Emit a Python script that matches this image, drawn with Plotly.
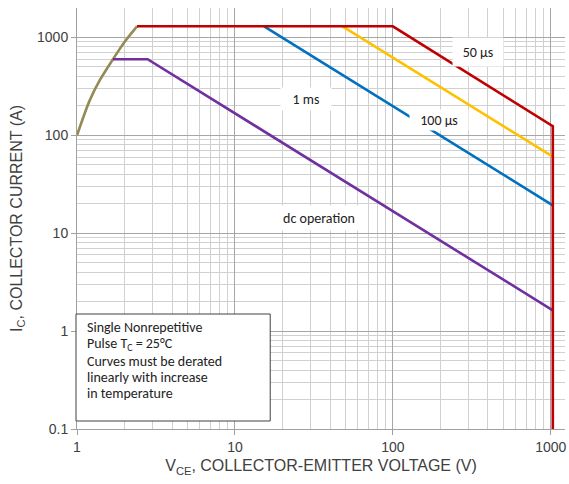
import plotly.graph_objects as go

# Safe operating area curves (V_CE in volts, I_C in amperes)
vce_rise = [1.0, 1.2, 1.4, 1.69, 2.0, 2.4]
ic_rise = [100, 225, 370, 600, 900, 1300]

vce_50us = [2.4, 100, 1030, 1030]
ic_50us = [1300, 1300, 124, 0.1]

vce_100us = [48, 1030]
ic_100us = [1300, 60.5]

vce_1ms = [15.3, 1030]
ic_1ms = [1300, 19.3]

vce_dc = [1.69, 2.8, 1030]
ic_dc = [600, 600, 1.63]

x_ticks = [1, 10, 100, 1000]
y_ticks = [0.1, 1, 10, 100, 1000]
y_tick_text = ["0.1", "1", "10", "100", "1000"]

x_minor = [m * 10 ** d for d in range(0, 4) for m in range(2, 10)]
y_minor = [m * 10 ** d for d in range(-1, 4) for m in range(2, 10)]

LW = 2.6
fig = go.Figure()
fig.add_trace(go.Scatter(x=vce_rise, y=ic_rise, mode="lines",
                         line=dict(color="#948A54", width=LW, shape="spline", smoothing=0.8)))
fig.add_trace(go.Scatter(x=vce_dc, y=ic_dc, mode="lines", line=dict(color="#7030A0", width=LW)))
fig.add_trace(go.Scatter(x=vce_1ms, y=ic_1ms, mode="lines", line=dict(color="#0070C0", width=LW)))
fig.add_trace(go.Scatter(x=vce_100us, y=ic_100us, mode="lines", line=dict(color="#FFC000", width=LW)))
fig.add_trace(go.Scatter(x=vce_50us, y=ic_50us, mode="lines", line=dict(color="#C00000", width=LW)))

label_font = dict(family="Carlito, Lato, sans-serif", size=14, color="#222222")

# plot area spans 77..567 px horizontally and 8..429 px vertically
def px_to_x(px):
    return (px - 77) / 490 * 3.09

def py_to_y(py):
    return 3.301 - (py - 8) / 421 * 4.301

curve_labels = [
    ("50 µs", 480, 52, 50, 28),
    ("100 µs", 440, 120, 58, 20),
    ("1 ms", 307, 99, 50, 22),
    ("dc operation", 320, 218, 94, 24),
]

annotations = []
for text, px, py, w, h in curve_labels:
    annotations.append(dict(
        x=px_to_x(px), y=py_to_y(py), xref="x", yref="y", text=text,
        showarrow=False, font=label_font, bgcolor="white",
        width=w, height=h, borderpad=0, xanchor="center", yanchor="middle",
    ))

note_lines = ["Single Nonrepetitive", "Pulse T<sub>C</sub> = 25°C",
              "Curves must be derated", "linearly with increase", "in temperature"]
note_y = [327, 344, 361, 377, 393]
for line, py in zip(note_lines, note_y):
    annotations.append(dict(
        x=(85 - 77) / 490, y=(429 - py) / 421, xref="paper", yref="paper",
        text=line, showarrow=False, align="left", xanchor="left", yanchor="middle",
        font=label_font,
    ))

shapes = [dict(
    type="rect", xref="paper", yref="paper",
    x0=(76 - 77) / 490, x1=(271 - 77) / 490,
    y0=(429 - 421) / 421, y1=(429 - 314) / 421,
    line=dict(color="#404040", width=1), fillcolor="white", layer="above",
)]

axis_font = dict(family="Liberation Sans, Arial, sans-serif", size=14, color="#404040")
title_font = dict(family="Liberation Sans, Arial, sans-serif", size=16, color="#404040")

fig.update_layout(
    width=569, height=484,
    margin=dict(l=77, r=2, t=8, b=55),
    paper_bgcolor="white", plot_bgcolor="white",
    showlegend=False,
    annotations=annotations,
    shapes=shapes,
    xaxis=dict(
        type="log", range=[0, 3.09],
        tickmode="array", tickvals=x_ticks, ticktext=[str(v) for v in x_ticks],
        ticks="outside", ticklen=5, tickcolor="#a0a0a0",
        showgrid=True, gridcolor="#a6a6a6", gridwidth=1,
        minor=dict(tickmode="array", tickvals=x_minor, showgrid=True,
                   gridcolor="#d0d0d0", ticks=""),
        showline=True, linecolor="#a0a0a0",
        tickfont=axis_font, zeroline=False,
        title=dict(text="V<sub>CE</sub>, COLLECTOR-EMITTER VOLTAGE (V)", font=title_font, standoff=6),
    ),
    yaxis=dict(
        type="log", range=[-1, 3.301],
        tickmode="array", tickvals=y_ticks, ticktext=y_tick_text,
        ticks="outside", ticklen=5, tickcolor="#a0a0a0",
        showgrid=True, gridcolor="#a6a6a6", gridwidth=1,
        minor=dict(tickmode="array", tickvals=y_minor, showgrid=True,
                   gridcolor="#d0d0d0", ticks=""),
        showline=True, linecolor="#a0a0a0",
        tickfont=axis_font, zeroline=False,
        title=dict(text="I<sub>C</sub>, COLLECTOR CURRENT (A)", font=title_font, standoff=10),
    ),
)

fig.write_html("out.html")
